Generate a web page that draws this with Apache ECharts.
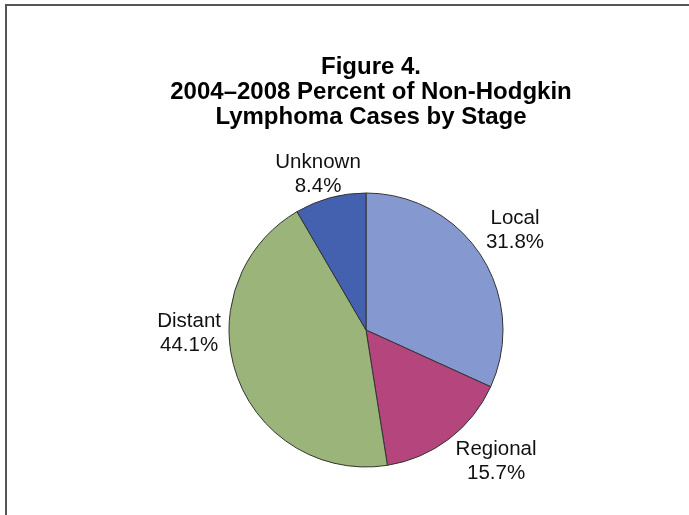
<!DOCTYPE html>
<html>
<head>
<meta charset="utf-8">
<script src="https://cdn.jsdelivr.net/npm/echarts@6/dist/echarts.min.js"></script>
<style>
  html, body { margin: 0; padding: 0; background: #fff; }
  #chart { width: 689px; height: 515px; }
</style>
</head>
<body>
<div id="chart"></div>
<script>
// stages and their share of cases (percent)
var stages = ['Local', 'Regional', 'Distant', 'Unknown'];
var percents = [31.8, 15.7, 44.1, 8.4];
var sliceColors = ['#8599d0', '#b5457d', '#9bb47a', '#4361ae'];
// nudge each label to where it sits in the figure
var labelShift = [[12, -15], [30, 6], [-24, -49], [-2, -4]];

var chart = echarts.init(document.getElementById('chart'));

var pieData = stages.map(function (name, i) {
  return { name: name, value: percents[i], itemStyle: { color: sliceColors[i] } };
});

var option = {
  animation: false,
  title: {
    top: 50,
    left: 366,
    textAlign: 'center',
    text: 'Figure 4.\n2004\u20132008 Percent of Non-Hodgkin\nLymphoma Cases by Stage',
    textStyle: {
      fontFamily: 'Liberation Sans, Arial, sans-serif',
      fontWeight: 'bold',
      fontSize: 24,
      lineHeight: 25,
      color: '#000'
    }
  },
  graphic: [
    // frame round the figure, only its left and top edges are in view
    { type: 'polyline', shape: { points: [[6, 520], [6, 5], [700, 5]] },
      style: { stroke: '#555', lineWidth: 2, fill: null } }
  ],
  series: [
    {
      type: 'pie',
      center: [366, 330],
      radius: 137,
      startAngle: 90,
      clockwise: true,
      avoidLabelOverlap: false,
      data: pieData,
      itemStyle: { borderColor: '#333', borderWidth: 1 },
      label: {
        show: true,
        position: 'outside',
        formatter: '{b}\n{c}%',
        fontFamily: 'Liberation Sans, Arial, sans-serif',
        fontSize: 20.5,
        lineHeight: 24,
        color: '#111'
      },
      labelLine: { show: false, length: 20, length2: 0 },
      labelLayout: function (params) {
        var s = labelShift[params.dataIndex];
        return { align: 'center', dx: s[0], dy: s[1] };
      }
    }
  ]
};
chart.setOption(option);
</script>
</body>
</html>
